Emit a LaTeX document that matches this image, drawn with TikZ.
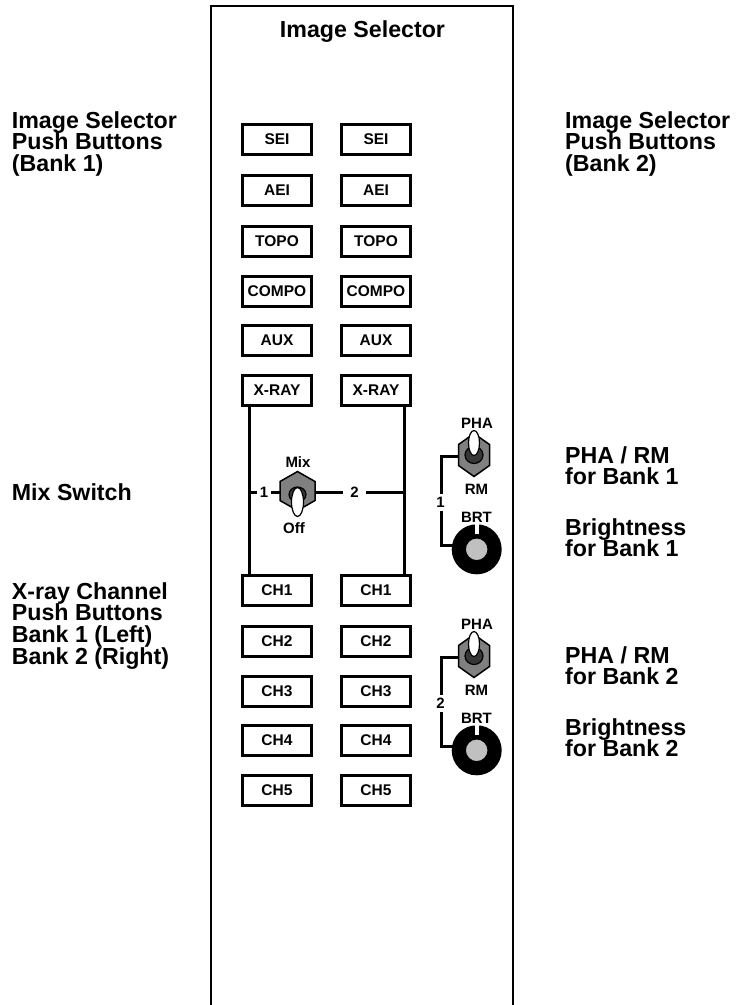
\documentclass[tikz,border=0pt]{standalone}
\usepackage{fontspec}
\setmainfont{Liberation Sans}
\definecolor{hexgray}{RGB}{128,128,128}
\definecolor{basegray}{RGB}{55,55,55}
\definecolor{knobgray}{RGB}{192,192,192}
\lineskiplimit=-50pt
\tikzset{
  bigtxt/.style={font={\bfseries\fontsize{23.2}{21.7}\selectfont}, inner sep=0pt, anchor=base west},
  btn/.style={draw, line width=3pt, minimum width=69pt, minimum height=30pt, inner sep=0pt, font={\bfseries\fontsize{15.5}{18}\selectfont}},
  small/.style={font={\bfseries\fontsize{15}{18}\selectfont}, inner sep=0pt},
  gaplbl/.style={small, fill=white, inner xsep=3pt, inner ysep=2pt},
  wire/.style={line width=3pt},
  % #1 half width, #2 half side, #3 half height, #4 lever y, #5 lever ry, #6 base y, #7 lever rx, #8 base rx, #9 base ry
  pics/toggle/.style n args={9}{code={
    \draw[line width=1.5pt, fill=hexgray] (0,-#3) -- (#1,-#2) -- (#1,#2) -- (0,#3) -- (-#1,#2) -- (-#1,-#2) -- cycle;
    \draw[line width=1.2pt, fill=basegray] (0,#6) ellipse [x radius=#8pt, y radius=#9pt];
    \draw[line width=1.2pt, fill=white] (0,#4) ellipse [x radius=#7pt, y radius=#5pt];
  }},
  pics/knobface/.style={code={
    \fill[white] (-2,-26) rectangle (2,-15);
    \draw[line width=1pt, fill=knobgray] (0,0) circle [radius=11.3pt];
  }},
  knob/.style={circle, fill=black, minimum size=50pt, inner sep=0pt, outer sep=0pt}
}
\newcommand\stackit[1]{\vtop{\lineskiplimit=-50pt #1}}
\begin{document}
\begin{tikzpicture}[x=1pt,y=-1pt]
\useasboundingbox (0,0) rectangle (738,1005);
% panel
\draw[line width=2.5pt] (211,1010) -- (211,6) -- (513,6) -- (513,1010);
\node[bigtxt, anchor=base] (title) at (362.5,37) {Image Selector};

% buttons
\foreach \t/\y/\n in {SEI/139.5/sei, AEI/190.5/aei, TOPO/241/topo, COMPO/291.5/compo, AUX/340/aux, X-RAY/390.5/xray, CH1/590.5/chA, CH2/641/chB, CH3/691/chC, CH4/740/chD, CH5/790.5/chE}{
  \node[btn] (\n L) at (277,\y) {\t};
  \node[btn] (\n R) at (376,\y) {\t};
}

% bank lines and mix switch
\coordinate (vL) at ([xshift=8pt]xrayL.south west);
\coordinate (vR) at ([xshift=-8pt]xrayR.south east);
\draw[wire] (vL) -- (vL |- chAL.north);
\draw[wire] (vR) -- (vR |- chAR.north);
\coordinate (mixline) at (297,492);
\draw[wire] (vL |- mixline) -- (vR |- mixline);
\coordinate (mix) at (297.5,491);
\pic at (mix) {toggle={17.5}{9.5}{19.5}{11}{14.5}{3.5}{6}{8.5}{7.5}};
\node[gaplbl] (m1) at (264,492) {1};
\node[gaplbl, inner xsep=7pt] (m2) at (354.5,492) {2};
\node[small] (mixlbl) at (298,462) {Mix};
\node[small] (offlbl) at (294,528) {Off};

% PHA/RM and BRT, bank 1 and bank 2
\foreach \k/\d in {1/0, 2/201}{
  \coordinate (pha\k) at (474,455+\d);
  \node[knob] (knob\k) at (476.7,549.3+\d) {};
  \draw[wire] ([shift={(-15,1.7)}]pha\k) -- ++(-18,0) |- ([yshift=4pt]knob\k.west);
  \pic at (pha\k) {toggle={15.5}{10.5}{21.5}{-12}{12.5}{0}{5.5}{9}{8.5}};
  \pic at (knob\k) {knobface};
  \node[gaplbl, inner xsep=1pt, inner ysep=3pt] (n\k) at (440.5,502.5+\d) {\k};
  \node[small] (phalbl\k) at (477,423+\d) {PHA};
  \node[small] (rmlbl\k) at (476.5,489+\d) {RM};
  \node[small] (brtlbl\k) at (476.5,517+\d) {BRT};
}

% left labels
\node[bigtxt] (l1) at (11.7,128) {\stackit{\hbox{Image Selector}\hbox{Push Buttons}\hbox{(Bank 1)}}};
\node[bigtxt] (l2) at (11.7,500) {Mix Switch};
\node[bigtxt] (l3) at (11.7,599) {\stackit{\hbox{X-ray Channel}\hbox{Push Buttons}\hbox{Bank 1 (Left)}\hbox{Bank 2 (Right)}}};

% right labels
\node[bigtxt] (r1) at (565,128) {\stackit{\hbox{Image Selector}\hbox{Push Buttons}\hbox{(Bank 2)}}};
\node[bigtxt] (r2) at (565,463) {\stackit{\hbox{PHA / RM}\hbox{for Bank 1}}};
\node[bigtxt] (r3) at (565,535) {\stackit{\hbox{Brightness}\hbox{for Bank 1}}};
\node[bigtxt] (r4) at (565,663) {\stackit{\hbox{PHA / RM}\hbox{for Bank 2}}};
\node[bigtxt] (r5) at (565,735) {\stackit{\hbox{Brightness}\hbox{for Bank 2}}};
\end{tikzpicture}
\end{document}
